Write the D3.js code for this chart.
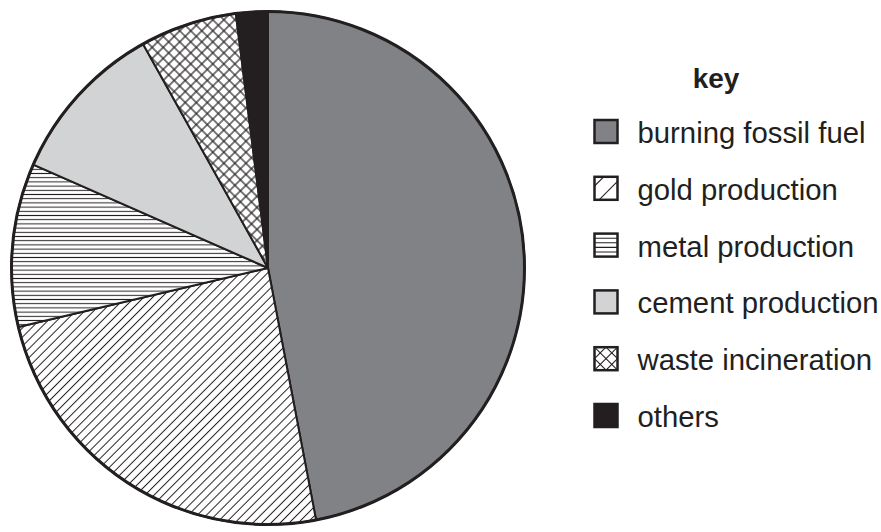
<!DOCTYPE html>
<html>
<head>
<meta charset="utf-8">
<script src="https://cdn.jsdelivr.net/npm/d3@7"></script>
<style>
  html, body { margin: 0; padding: 0; background: #fff; }
  svg { display: block; }
</style>
</head>
<body>
<svg id="chart" width="881" height="532"></svg>
<script>
const categories = ["burning fossil fuel", "gold production", "metal production", "cement production", "waste incineration", "others"];
const values = [47, 24.3, 10.3, 10.3, 6.1, 2.0];
const keyTitle = "key";

const svg = d3.select("#chart");
const ink = "#231f20";
const defs = svg.append("defs");

function linePattern(id, spacing, angle, sw, cross) {
  const p = defs.append("pattern").attr("id", id)
    .attr("patternUnits", "userSpaceOnUse")
    .attr("width", spacing).attr("height", spacing)
    .attr("patternTransform", `rotate(${angle})`);
  p.append("rect").attr("width", spacing).attr("height", spacing).attr("fill", "#fff");
  p.append("line").attr("x1", 0).attr("y1", spacing / 2).attr("x2", spacing).attr("y2", spacing / 2)
    .attr("stroke", ink).attr("stroke-width", sw);
  if (cross) {
    p.append("line").attr("x1", spacing / 2).attr("y1", 0).attr("x2", spacing / 2).attr("y2", spacing)
      .attr("stroke", ink).attr("stroke-width", sw);
  }
}
linePattern("gold", 6.4, -45, 1, false);
linePattern("metal", 4.2, 0, 1, false);
linePattern("waste", 7.8, 45, 1.2, true);

const fills = d3.scaleOrdinal().domain(categories)
  .range(["#808285", "url(#gold)", "url(#metal)", "#d1d3d4", "url(#waste)", ink]);
const keyBase = d3.scaleOrdinal().domain(categories)
  .range(["#808285", "#fff", "#fff", "#d1d3d4", "#fff", ink]);
// icon hatch lines in unit-square coordinates
const keyLines = {
  "gold production": [[0, 0.4, 0.4, 0], [0.2, 1, 1, 0.2]],
  "metal production": [[0, 0.2, 1, 0.2], [0, 0.4, 1, 0.4], [0, 0.6, 1, 0.6], [0, 0.8, 1, 0.8]],
  "waste incineration": [[0, 0.5, 0.5, 0], [0, 1, 1, 0], [0.5, 1, 1, 0.5],
                         [0, 0.5, 0.5, 1], [0, 0, 1, 1], [0.5, 0, 1, 0.5]]
};

const cx = 268, cy = 268, r = 256.5;
const pie = d3.pie().sort(null).value(d => d.v);
const arcs = pie(categories.map((c, i) => ({ c, v: values[i] })));
const arc = d3.arc().innerRadius(0).outerRadius(r);

const g = svg.append("g").attr("transform", `translate(${cx},${cy})`);
g.selectAll("path.slice").data(arcs).join("path")
  .attr("class", "slice")
  .attr("d", arc)
  .attr("fill", d => fills(d.data.c))
  .attr("stroke", ink)
  .attr("stroke-width", 2)
  .attr("stroke-linejoin", "round");
g.append("circle").attr("r", r).attr("fill", "none").attr("stroke", ink).attr("stroke-width", 3);

// legend
const y = d3.scalePoint().domain(categories).range([131.5, 415.5]);
svg.append("text").attr("x", 716).attr("y", 88).attr("text-anchor", "middle")
  .attr("font-family", "Liberation Sans, Arial, sans-serif").attr("font-weight", "bold")
  .attr("font-size", 28).attr("fill", ink).text(keyTitle);

const bx = 594.5, bs = 23;
const sx = d3.scaleLinear().domain([0, 1]).range([bx, bx + bs]);
const sy = d3.scaleLinear().domain([0, 1]).range([-bs / 2, bs / 2]);
defs.append("clipPath").attr("id", "keyClip").append("rect")
  .attr("x", bx).attr("y", -bs / 2).attr("width", bs).attr("height", bs);

const items = svg.selectAll("g.item").data(categories).join("g").attr("class", "item")
  .attr("transform", d => `translate(0,${y(d)})`);
items.append("rect").attr("x", bx).attr("y", -bs / 2).attr("width", bs).attr("height", bs)
  .attr("fill", d => keyBase(d));
items.append("g").attr("clip-path", "url(#keyClip)")
  .selectAll("line").data(d => keyLines[d] || []).join("line")
  .attr("x1", l => sx(l[0])).attr("y1", l => sy(l[1]))
  .attr("x2", l => sx(l[2])).attr("y2", l => sy(l[3]))
  .attr("stroke", ink).attr("stroke-width", 1.1);
items.append("rect").attr("x", bx).attr("y", -bs / 2).attr("width", bs).attr("height", bs)
  .attr("fill", "none").attr("stroke", ink).attr("stroke-width", 2.5);
items.append("text").attr("x", 637.5).attr("y", 11.5)
  .attr("font-family", "Liberation Sans, Arial, sans-serif").attr("font-size", 29.3)
  .attr("fill", ink).text(d => d);
</script>
</body>
</html>
